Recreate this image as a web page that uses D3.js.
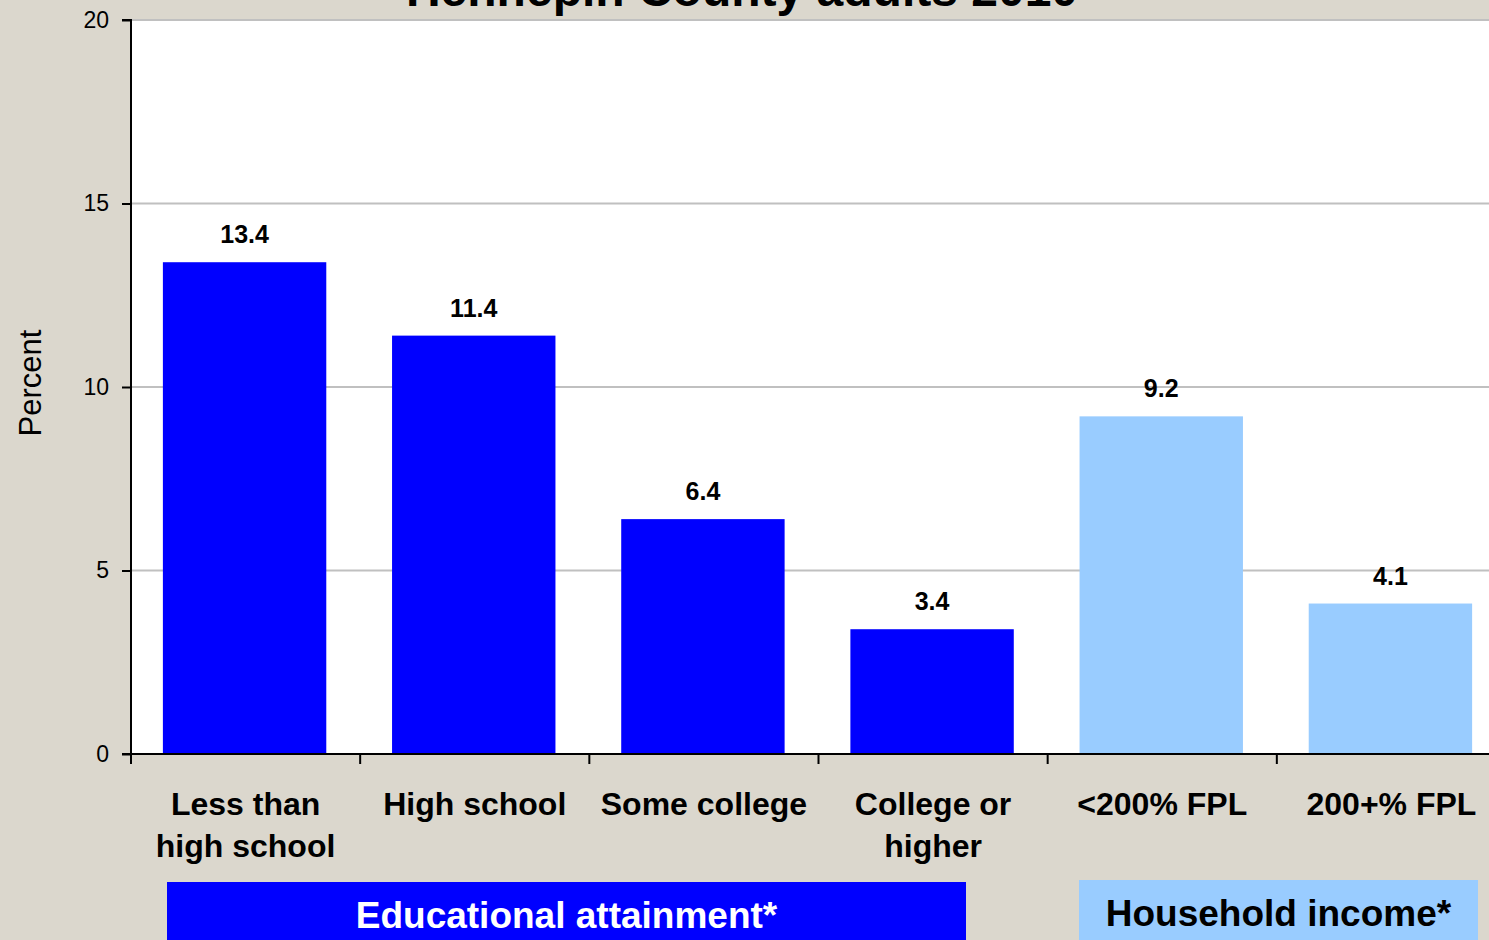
<!DOCTYPE html>
<html>
<head>
<meta charset="utf-8">
<script src="https://cdn.jsdelivr.net/npm/d3@7"></script>
<style>
  html, body { margin: 0; padding: 0; background: #DBD7CD; }
  svg { display: block; font-family: "Liberation Sans", Arial, Helvetica, sans-serif; }
</style>
</head>
<body>
<svg id="chart" width="1489" height="940"></svg>
<script>
const title = "Hennepin County adults 2010";
const categories = [["Less than", "high school"], ["High school"], ["Some college"], ["College or", "higher"], ["<200% FPL"], ["200+% FPL"]];
const values = [13.4, 11.4, 6.4, 3.4, 9.2, 4.1];
const groups = ["edu", "edu", "edu", "edu", "inc", "inc"];
const yTicks = [0, 5, 10, 15, 20];
const groupLabels = [
  { key: "edu", label: "Educational attainment*", first: 0, last: 3 },
  { key: "inc", label: "Household income*", first: 4, last: 5 }
];
const colors = { edu: "#0000FF", inc: "#99CCFF" };
const groupText = { edu: "#FFFFFF", inc: "#000000" };

const svg = d3.select("#chart");
const W = 1489, H = 940;
const plot = { left: 131, top: 20, right: 1506, bottom: 754 };

const x = d3.scaleBand().domain(d3.range(values.length)).range([plot.left, plot.right]).padding(0);
const y = d3.scaleLinear().domain([0, 20]).range([plot.bottom, plot.top]);
const barW = x.bandwidth() * 0.713;

// plot background
svg.append("rect").attr("x", plot.left).attr("y", plot.top)
  .attr("width", plot.right - plot.left).attr("height", plot.bottom - plot.top)
  .attr("fill", "#FFFFFF");

// gridlines
svg.append("g").selectAll("line").data(yTicks.filter(t => t > 0)).join("line")
  .attr("x1", plot.left).attr("x2", plot.right)
  .attr("y1", d => y(d)).attr("y2", d => y(d))
  .attr("stroke", "#C0C0C0").attr("stroke-width", 2);

// title (clipped at top, as in the reference)
svg.append("text").attr("x", 742).attr("y", 6).attr("text-anchor", "middle")
  .attr("font-size", 48).attr("font-weight", "bold").attr("fill", "#000").text(title);

// bars
svg.append("g").selectAll("rect").data(values).join("rect")
  .attr("x", (d, i) => x(i) + (x.bandwidth() - barW) / 2 - 1)
  .attr("y", d => y(d))
  .attr("width", barW)
  .attr("height", d => y(0) - y(d))
  .attr("fill", (d, i) => colors[groups[i]]);

// data labels
svg.append("g").selectAll("text").data(values).join("text")
  .attr("x", (d, i) => x(i) + x.bandwidth() / 2 - 1)
  .attr("y", d => y(d) - 19)
  .attr("text-anchor", "middle").attr("font-size", 25).attr("font-weight", "bold")
  .text(d => d.toFixed(1));

// y axis
const yAxis = d3.axisLeft(y).tickValues(yTicks).tickSize(9).tickPadding(13).tickFormat(d3.format("d"));
const gy = svg.append("g").attr("transform", `translate(${plot.left},0)`).call(yAxis);
gy.select(".domain").attr("stroke", "#000").attr("stroke-width", 2).attr("d", `M-9,${plot.top}H0V${plot.bottom}`);
gy.selectAll(".tick line").attr("stroke", "#000").attr("stroke-width", 2);
gy.selectAll(".tick text").attr("font-size", 23).attr("font-family", "Liberation Sans, Arial, sans-serif").attr("fill", "#000");

// x axis
const xEdges = d3.range(values.length + 1).map(i => plot.left + i * x.step());
const gx = svg.append("g");
gx.append("line").attr("x1", plot.left - 9).attr("x2", plot.right)
  .attr("y1", plot.bottom).attr("y2", plot.bottom)
  .attr("stroke", "#000").attr("stroke-width", 2);
gx.selectAll("line.tk").data(xEdges).join("line").attr("class", "tk")
  .attr("x1", d => d).attr("x2", d => d)
  .attr("y1", plot.bottom).attr("y2", plot.bottom + 10)
  .attr("stroke", "#000").attr("stroke-width", 2);

// category labels
const cat = svg.append("g").selectAll("text").data(categories).join("text")
  .attr("x", (d, i) => x(i) + x.bandwidth() / 2)
  .attr("y", 815)
  .attr("text-anchor", "middle").attr("font-size", 32).attr("font-weight", "bold");
cat.selectAll("tspan").data(d => d).join("tspan")
  .attr("x", function() { return d3.select(this.parentNode).attr("x"); })
  .attr("dy", (d, i) => i === 0 ? 0 : 42)
  .text(d => d);

// y axis title
svg.append("text").attr("transform", "translate(41,383) rotate(-90)")
  .attr("text-anchor", "middle").attr("font-size", 31).text("Percent");

// group label boxes
const boxes = [
  { key: "edu", x0: 167, x1: 966, y0: 882, base: 928 },
  { key: "inc", x0: 1079, x1: 1478, y0: 880, base: 926 }
];
groupLabels.forEach((g, i) => {
  const b = boxes[i];
  svg.append("rect").attr("x", b.x0).attr("y", b.y0).attr("width", b.x1 - b.x0).attr("height", H - b.y0 + 5)
    .attr("fill", colors[g.key]);
  svg.append("text").attr("x", (b.x0 + b.x1) / 2).attr("y", b.base).attr("text-anchor", "middle")
    .attr("font-size", 37).attr("font-weight", "bold").attr("fill", groupText[g.key]).text(g.label);
});
</script>
</body>
</html>
